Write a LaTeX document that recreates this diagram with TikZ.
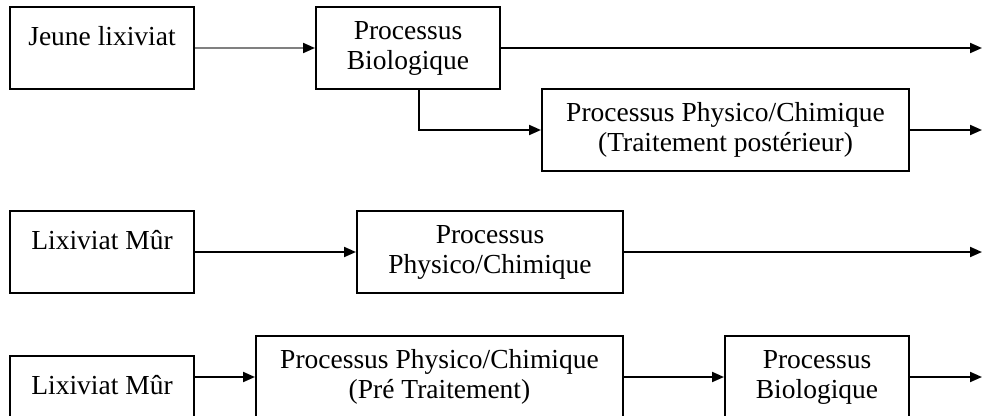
\documentclass[tikz,border=0pt]{standalone}
\usepackage{fontspec}
\setmainfont{Liberation Serif}
\usetikzlibrary{positioning,arrows.meta}
\definecolor{inkline}{RGB}{0,0,0}
\definecolor{grayline}{RGB}{128,128,128}
\tikzset{
    stage/.style={rectangle, draw=inkline, line width=2pt, inner sep=0pt, minimum height=82pt, align=center, font=\fontsize{27.5}{30}\selectfont},
    leachate/.style={stage, minimum width=184pt, text height=38pt, text depth=44pt},
    flow arrow/.style={-{Triangle[length=12pt,width=10pt]}, line width=2pt, inkline},
    gray arrow/.style={flow arrow, draw=grayline, -{Triangle[length=12pt,width=10pt,color=inkline]}}
}

\begin{document}
\begin{tikzpicture}[x=1pt, y=-1pt]
\useasboundingbox (0,0) rectangle (982,415);
% Young leachate
\node[leachate] (jeune) at (102,48) {Jeune lixiviat};
\node[stage, minimum width=184pt] (bio1) at (408,48) {Processus\\Biologique};
\node[stage, minimum width=367pt] (post) at (725.5,130) {Processus Physico/Chimique\\(Traitement postérieur)};

% Mature leachate, physico-chemical only
\node[leachate] (mur1) at (102,252) {Lixiviat Mûr};
\node[stage, minimum width=266pt] (phys) at (490,252) {Processus\\Physico/Chimique};

% Mature leachate, pre-treatment then biological
\node[leachate] (mur2) at (102,397) {Lixiviat Mûr};
\node[stage, minimum width=367pt] (pre) at (439.5,377) {Processus Physico/Chimique\\(Pré Traitement)};
\node[stage, minimum width=184pt] (bio2) at (817,377) {Processus\\Biologique};

% Outlets
\coordinate (outx) at (982,0);

% Arrows
\draw[gray arrow] (jeune) -- (bio1);
\draw[flow arrow] (bio1) -- (bio1 -| outx);
\draw[flow arrow] ([xshift=11pt]bio1.south) |- (post.west);
\draw[flow arrow] (post) -- (post -| outx);
\draw[flow arrow] (mur1) -- (phys);
\draw[flow arrow] (phys) -- (phys -| outx);
\draw[flow arrow] (mur2.east |- pre.west) -- (pre.west);
\draw[flow arrow] (pre) -- (bio2);
\draw[flow arrow] (bio2) -- (bio2 -| outx);
\end{tikzpicture}
\end{document}
